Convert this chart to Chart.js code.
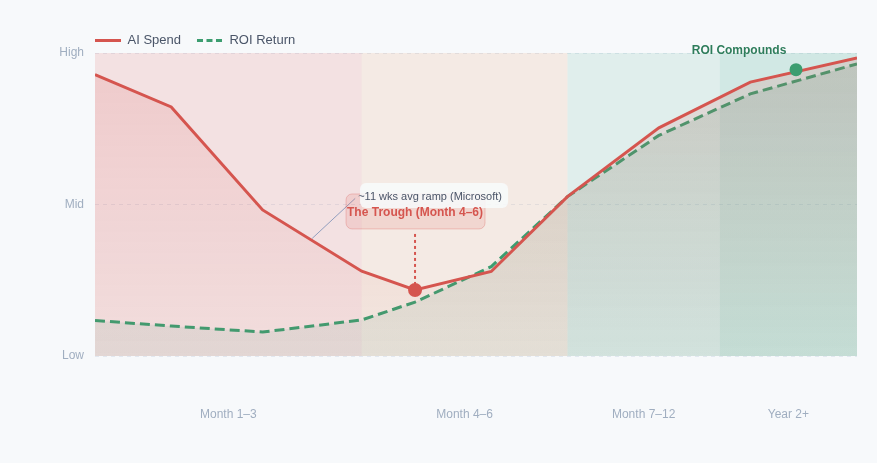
<!DOCTYPE html>
<html>
<head>
<meta charset="utf-8">
<script src="https://cdn.jsdelivr.net/npm/chart.js@4.4.1/dist/chart.umd.min.js"></script>
<style>
  html, body { margin: 0; padding: 0; background: #f7f9fb; }
  #wrap { width: 877px; height: 463px; }
</style>
</head>
<body>
<div id="wrap"><canvas id="chart"></canvas></div>
<script>
// timeline position (0-100) and relative level (0 = Low, 100 = High)
const timeline = [0, 10, 22, 35, 42, 52, 62, 74, 86, 100];
const aiSpend = [92.9, 82.2, 48.2, 28.0, 21.8, 27.9, 52.6, 75.3, 90.4, 98.4];
const roiReturn = [11.7, 9.9, 7.9, 11.9, 17.8, 29.5, 52.6, 72.8, 86.5, 96.4];

const phaseLabels = ['Month 1–3', 'Month 4–6', 'Month 7–12', 'Year 2+'];
const phaseEdges = [0, 35, 62, 82, 100];
const phaseColors = ['rgba(217,83,79,0.14)', 'rgba(230,150,90,0.14)', 'rgba(72,170,140,0.13)', 'rgba(72,170,140,0.21)'];

const levelTicks = [0, 50, 100];
const levelLabels = ['Low', 'Mid', 'High'];

const troughIndex = 4;
const compoundPoint = { x: 92, y: 94.5 };
const rampNote = { x: 28.5, y: 38.8 };

const RED = '#d5554f';
const GREEN = '#3c9d70';
const FONT = 'Helvetica, Arial, "Liberation Sans", sans-serif';
const LEGEND_PAD = 16;

const toPoints = vals => vals.map((v, i) => ({ x: timeline[i], y: v }));

const gradient = (ctx, top, bottom) => {
    const area = ctx.chart.chartArea;
    if (!area) return top;
    const g = ctx.chart.ctx.createLinearGradient(0, area.top, 0, area.bottom);
    g.addColorStop(0, top);
    g.addColorStop(1, bottom);
    return g;
};

const bandsPlugin = {
    id: 'bands',
    beforeDatasetsDraw(chart) {
        const { ctx, chartArea, scales: { x } } = chart;
        ctx.save();
        for (let i = 0; i < phaseLabels.length; i++) {
            const x0 = x.getPixelForValue(phaseEdges[i]);
            const x1 = x.getPixelForValue(phaseEdges[i + 1]);
            ctx.fillStyle = phaseColors[i];
            ctx.fillRect(x0, chartArea.top, x1 - x0, chartArea.bottom - chartArea.top);
        }
        ctx.restore();
    },
    beforeDraw(chart) {
        // line the legend up with the plot area
        if (chart.legend) {
            chart.legend.left = chart.chartArea.left - LEGEND_PAD;
            chart.legend.top = 18;
        }
    }
};

const notesPlugin = {
    id: 'notes',
    afterDatasetsDraw(chart) {
        const { ctx, scales: { x, y } } = chart;
        const tx = x.getPixelForValue(timeline[troughIndex]);
        const ty = y.getPixelForValue(aiSpend[troughIndex]);
        ctx.save();

        // connector from the spend line to the ramp note
        const cx = x.getPixelForValue(rampNote.x);
        const cy = y.getPixelForValue(rampNote.y);
        ctx.strokeStyle = 'rgba(120,140,180,0.8)';
        ctx.lineWidth = 1;
        ctx.beginPath();
        ctx.moveTo(cx, cy);
        ctx.lineTo(cx + 43, cy - 40);
        ctx.stroke();

        // dotted drop to the trough
        ctx.strokeStyle = RED;
        ctx.lineWidth = 2;
        ctx.setLineDash([3, 3]);
        ctx.beginPath();
        ctx.moveTo(tx, ty - 56);
        ctx.lineTo(tx, ty - 6);
        ctx.stroke();
        ctx.setLineDash([]);

        // trough label box
        ctx.fillStyle = 'rgba(217,83,79,0.14)';
        ctx.strokeStyle = 'rgba(217,83,79,0.28)';
        ctx.beginPath();
        ctx.roundRect(tx - 69, ty - 96, 139, 35, 6);
        ctx.fill();
        ctx.lineWidth = 1;
        ctx.stroke();

        // ramp note box
        ctx.fillStyle = 'rgba(248,250,252,0.85)';
        ctx.beginPath();
        ctx.roundRect(tx - 55, ty - 107, 148, 25, 6);
        ctx.fill();

        ctx.textAlign = 'center';
        ctx.textBaseline = 'middle';
        ctx.fillStyle = '#4a5568';
        ctx.font = '11px ' + FONT;
        ctx.fillText('~11 wks avg ramp (Microsoft)', tx + 15, ty - 93);
        ctx.fillStyle = RED;
        ctx.font = 'bold 12px ' + FONT;
        ctx.fillText('The Trough (Month 4–6)', tx, ty - 77);

        // compounding marker
        const gx = x.getPixelForValue(compoundPoint.x);
        const gy = y.getPixelForValue(compoundPoint.y);
        ctx.fillStyle = GREEN;
        ctx.beginPath();
        ctx.arc(gx, gy, 6.5, 0, Math.PI * 2);
        ctx.fill();
        ctx.fillStyle = '#2e7d5b';
        ctx.font = 'bold 12px ' + FONT;
        ctx.fillText('ROI Compounds', gx - 57, gy - 18.5);

        ctx.restore();
    }
};

new Chart(document.getElementById('chart'), {
    type: 'line',
    data: {
        datasets: [{
            label: 'AI Spend',
            data: toPoints(aiSpend),
            borderColor: RED,
            borderWidth: 3,
            pointRadius: aiSpend.map((v, i) => i === troughIndex ? 7 : 0),
            pointBackgroundColor: RED,
            pointBorderWidth: 0,
            tension: 0,
            fill: 'origin',
            backgroundColor: ctx => gradient(ctx, 'rgba(217,83,79,0.16)', 'rgba(217,83,79,0.03)')
        }, {
            label: 'ROI Return',
            data: toPoints(roiReturn),
            borderColor: GREEN,
            borderWidth: 3,
            borderDash: [10, 5],
            pointRadius: 0,
            tension: 0,
            fill: 'origin',
            backgroundColor: ctx => gradient(ctx, 'rgba(61,140,112,0.16)', 'rgba(61,153,112,0.09)')
        }]
    },
    options: {
        responsive: true,
        maintainAspectRatio: false,
        animation: false,
        layout: { padding: { top: 14, right: 20, bottom: 37, left: 0 } },
        plugins: {
            legend: {
                align: 'start',
                labels: {
                    usePointStyle: true,
                    pointStyle: 'line',
                    pointStyleWidth: 26,
                    padding: LEGEND_PAD,
                    color: '#4a5568',
                    font: { family: FONT, size: 13 },
                    generateLabels(chart) {
                        return chart.data.datasets.map((ds, i) => ({
                            text: ds.label,
                            datasetIndex: i,
                            pointStyle: 'line',
                            strokeStyle: ds.borderColor,
                            fillStyle: ds.borderColor,
                            lineWidth: 3,
                            lineDash: ds.borderDash ? [6, 3.5] : [],
                            hidden: false,
                            fontColor: '#4a5568'
                        }));
                    }
                }
            },
            tooltip: { enabled: false }
        },
        scales: {
            x: {
                type: 'linear',
                min: 0,
                max: 100,
                afterBuildTicks(scale) {
                    scale.ticks = phaseLabels.map((l, i) => ({ value: (phaseEdges[i] + phaseEdges[i + 1]) / 2 }));
                },
                afterFit(scale) { scale.height = 70; },
                grid: { display: false, drawTicks: false },
                border: { display: false },
                ticks: {
                    autoSkip: false,
                    maxRotation: 0,
                    padding: 51,
                    color: '#a0aec0',
                    font: { family: FONT, size: 12 },
                    callback: (v, i) => phaseLabels[i]
                }
            },
            y: {
                min: 0,
                max: 100,
                afterBuildTicks(scale) {
                    scale.ticks = levelTicks.map(v => ({ value: v }));
                },
                afterFit(scale) { scale.width = 95; },
                grid: { color: '#e2e8f0', drawTicks: false, lineWidth: 1 },
                border: { display: false, dash: [4, 4] },
                ticks: {
                    padding: 11,
                    color: '#a0aec0',
                    font: { family: FONT, size: 12 },
                    callback: (v, i) => levelLabels[i]
                }
            }
        }
    },
    plugins: [bandsPlugin, notesPlugin]
});
</script>
</body>
</html>
